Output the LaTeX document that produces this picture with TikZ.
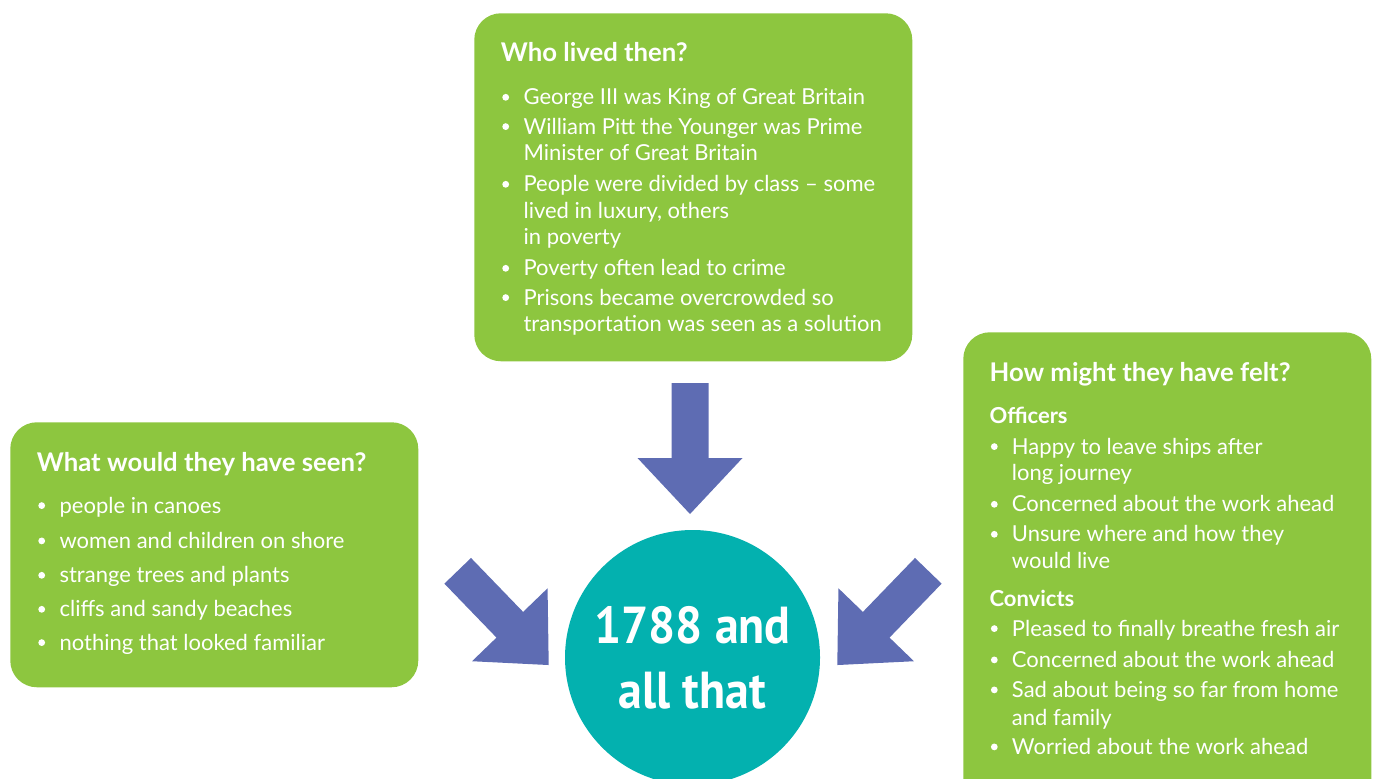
\documentclass[tikz,border=0pt]{standalone}
\usepackage{fontspec}
\setmainfont{Lato}
\newfontfamily\hubfont[FakeStretch=0.92]{PT Sans}
\usetikzlibrary{positioning}
\definecolor{leafgreen}{RGB}{141,198,63}
\definecolor{arrowblue}{RGB}{94,108,179}
\definecolor{hubteal}{RGB}{3,177,175}
\newcommand{\mypx}{0.75pt}
\tikzset{
    boxsty/.style={fill=leafgreen, rectangle, rounded corners=20pt, anchor=north west, inner sep=0pt},
    titlesty/.style={anchor=base west, inner sep=0pt, text=white, font=\fontsize{19.3}{23}\selectfont\bfseries},
    substy/.style={anchor=base west, inner sep=0pt, text=white, font=\fontsize{16.5}{20}\selectfont\bfseries},
    linesty/.style={anchor=base west, inner sep=0pt, text=white, font=\fontsize{16.5}{20}\selectfont},
    bulsty/.style={fill=white},
    fatsty/.style={fill=arrowblue},
    hubsty/.style={circle, fill=hubteal, minimum size=255*\mypx, inner sep=0pt, text=white, align=center,
                   font=\hubfont\bfseries\fontsize{39}{48.75}\selectfont},
}
% block arrow pointing along +y, starting at (#1,#2), turned by #3
\newcommand{\fatarrow}[3]{%
  \fill[fatsty, shift={(#1,#2)}, rotate=#3]
    (-18.5,0) -- (-18.5,75) -- (-52.5,75) -- (0,131) -- (52.5,75) -- (18.5,75) -- (18.5,0) -- cycle;}

\begin{document}
\begin{tikzpicture}[x=\mypx, y=-\mypx]
  \clip (0,0) rectangle (1376,778);

  % the three boxes
  \node[boxsty, minimum width=438*\mypx, minimum height=348*\mypx] (who) at (474,13) {};
  \node[boxsty, minimum width=408*\mypx, minimum height=265*\mypx] (seen) at (10,422) {};
  \node[boxsty, minimum width=408*\mypx, minimum height=480*\mypx] (felt) at (963,332) {};

  % centre circle
  \node[hubsty] (hub) at (692.5,657.5) {1788 and\\all that};

  % arrows into the circle
  \fatarrow{690}{383}{0}
  \fatarrow{457.7}{570.8}{44}
  \fatarrow{928.3}{570.8}{-44}

  % top box
  \node[titlesty] (who-t) at (500.7,61.7) {Who lived then?};
  \foreach \y/\t [count=\i] in {104.7/{George III was King of Great Britain},
                                134/{William Pitt the Younger was Prime},
                                160.5/{Minister of Great Britain},
                                191.7/{People were divided by class – some},
                                218.3/{lived in luxury, others},
                                244.5/{in poverty},
                                275.7/{Poverty often lead to crime},
                                305/{Prisons became overcrowded so},
                                331.7/{transportation was seen as a solution}}
    \node[linesty] (who-\i) at (523.3,\y) {\t};
  \foreach \y in {104.7,134,191.7,275.7,305}
    \fill[bulsty] (505.7,\y-7.4) circle[radius=3.4*\mypx];

  % left box
  \node[titlesty] (seen-t) at (36.7,471.7) {What would they have seen?};
  \foreach \y/\t [count=\i] in {513/{people in canoes},
                                548.3/{women and children on shore},
                                582.7/{strange trees and plants},
                                616.7/{cliffs and sandy beaches},
                                650/{nothing that looked familiar}}
  {
    \node[linesty] (seen-\i) at (59.3,\y) {\t};
    \fill[bulsty] (41.7,\y-7.4) circle[radius=3.4*\mypx];
  }

  % right box
  \node[titlesty] (felt-t) at (989.3,381.7) {How might they have felt?};
  \node[substy] (felt-o) at (989.3,423.3) {Officers};
  \node[substy] (felt-c) at (989.3,606.7) {Convicts};
  \foreach \y/\t [count=\i] in {454/{Happy to leave ships after},
                                480.7/{long journey},
                                511.7/{Concerned about the work ahead},
                                541.7/{Unsure where and how they},
                                568.3/{would live},
                                636/{Pleased to finally breathe fresh air},
                                667.3/{Concerned about the work ahead},
                                697.3/{Sad about being so far from home},
                                725/{and family},
                                754.3/{Worried about the work ahead}}
    \node[linesty] (felt-\i) at (1011.7,\y) {\t};
  \foreach \y in {454,511.7,541.7,636,667.3,697.3,754.3}
    \fill[bulsty] (994.3,\y-7.4) circle[radius=3.4*\mypx];
\end{tikzpicture}
\end{document}
